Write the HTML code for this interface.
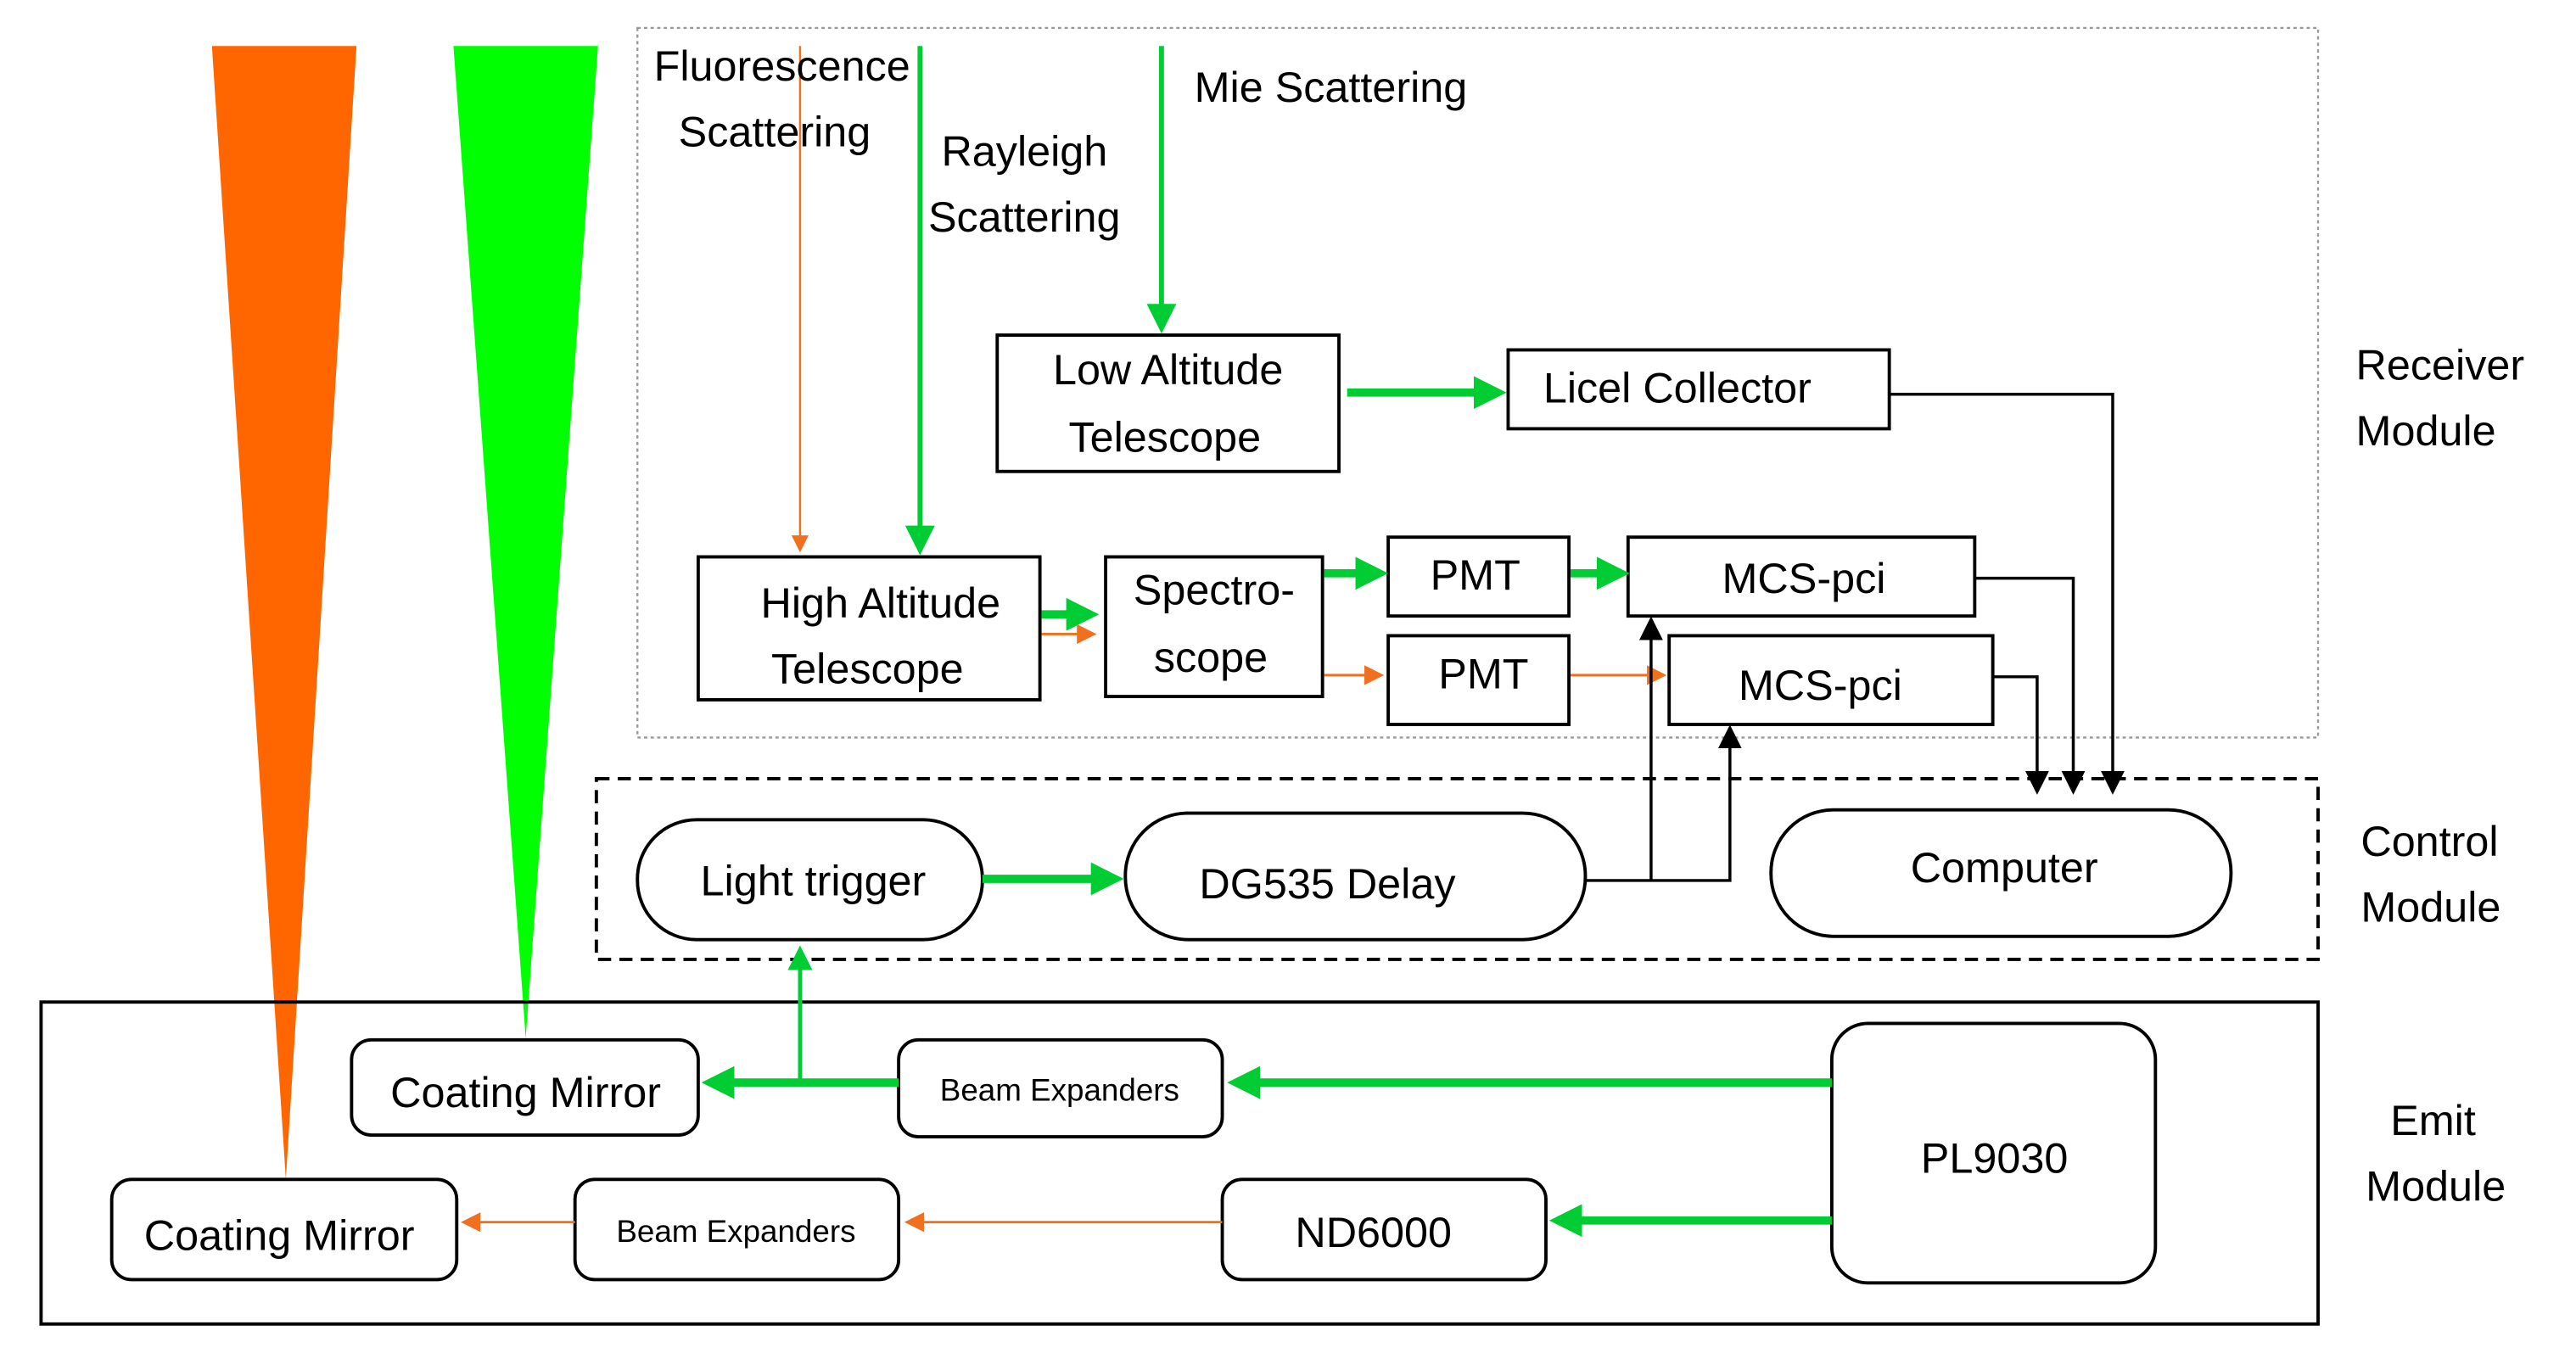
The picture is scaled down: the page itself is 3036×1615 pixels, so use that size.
<!DOCTYPE html>
<html><head><meta charset="utf-8"><style>
html,body{margin:0;padding:0;background:#fff;}
svg{display:block;}
text{font-family:"Liberation Sans",sans-serif;fill:#000;}
</style></head><body>
<svg width="3036" height="1615" viewBox="0 0 1568 834" preserveAspectRatio="none" xmlns="http://www.w3.org/2000/svg">
<defs>
<marker id="ag" markerWidth="4" markerHeight="4" refX="3" refY="2" orient="auto" markerUnits="strokeWidth"><path d="M0,0 L4,2 L0,4 z" fill="#00cc33"/></marker>
<marker id="ag2" markerWidth="6" markerHeight="6" refX="5" refY="3" orient="auto" markerUnits="strokeWidth"><path d="M0,0 L6,3 L0,6 z" fill="#00cc33"/></marker>
<marker id="ao" markerWidth="8" markerHeight="8" refX="7" refY="4" orient="auto" markerUnits="strokeWidth"><path d="M0,0 L8,4 L0,8 z" fill="#f07020"/></marker>
<marker id="ab" markerWidth="8" markerHeight="8" refX="7" refY="4" orient="auto" markerUnits="strokeWidth"><path d="M0,0 L8,4 L0,8 z" fill="#000"/></marker>
</defs>

<polygon points="129,28 217,28 174,718" fill="#ff6600"/>
<polygon points="276,28 364,28 320,632" fill="#00ff00"/>

<rect x="388" y="17" width="1023" height="432" fill="none" stroke="#999" stroke-width="1.2" stroke-dasharray="2,2"/>
<rect x="363" y="474" width="1048" height="110" fill="none" stroke="#000" stroke-width="2" stroke-dasharray="8,5"/>
<rect x="25" y="610" width="1386" height="196" fill="none" stroke="#000" stroke-width="2"/>

<line x1="487" y1="28" x2="487" y2="335" stroke="#f07020" stroke-width="1.3" marker-end="url(#ao)"/>
<line x1="560" y1="28" x2="560" y2="335" stroke="#00cc33" stroke-width="3" marker-end="url(#ag2)"/>
<line x1="707" y1="28" x2="707" y2="200" stroke="#00cc33" stroke-width="3" marker-end="url(#ag2)"/>

<g font-size="26">
<text x="398" y="49">Fluorescence</text>
<text x="413" y="89">Scattering</text>
<text x="573" y="101">Rayleigh</text>
<text x="565" y="141">Scattering</text>
<text x="727" y="62">Mie Scattering</text>
</g>

<g fill="none" stroke="#000" stroke-width="2">
<rect x="607" y="204" width="208" height="83"/>
<rect x="918" y="213" width="232" height="48"/>
<rect x="425" y="339" width="208" height="87"/>
<rect x="673" y="339" width="132" height="85"/>
<rect x="845" y="327" width="110" height="48"/>
<rect x="845" y="387" width="110" height="54"/>
<rect x="991" y="327" width="211" height="48"/>
<rect x="1016" y="387" width="197" height="54"/>
<rect x="388" y="499" width="210" height="73" rx="36"/>
<rect x="685" y="495" width="280" height="77" rx="38"/>
<rect x="1078" y="493" width="280" height="77" rx="38"/>
<rect x="214" y="633" width="211" height="58" rx="12"/>
<rect x="547" y="633" width="197" height="59" rx="12"/>
<rect x="1115" y="623" width="197" height="158" rx="22"/>
<rect x="68" y="718" width="210" height="61" rx="12"/>
<rect x="350" y="718" width="197" height="61" rx="12"/>
<rect x="744" y="718" width="197" height="61" rx="12"/>
</g>

<g font-size="26" text-anchor="middle">
<text x="711" y="234">Low Altitude</text>
<text x="709" y="275">Telescope</text>
<text x="1021" y="245">Licel Collector</text>
<text x="536" y="376">High Altitude</text>
<text x="528" y="416">Telescope</text>
<text x="739" y="368">Spectro-</text>
<text x="737" y="409">scope</text>
<text x="898" y="359">PMT</text>
<text x="903" y="419">PMT</text>
<text x="1098" y="361">MCS-pci</text>
<text x="1108" y="426">MCS-pci</text>
<text x="495" y="545">Light trigger</text>
<text x="808" y="547">DG535 Delay</text>
<text x="1220" y="537">Computer</text>
<text x="320" y="674">Coating Mirror</text>
<text x="170" y="761">Coating Mirror</text>
<text x="1214" y="714">PL9030</text>
<text x="836" y="759">ND6000</text>
</g>
<g font-size="19" text-anchor="middle">
<text x="645" y="670">Beam Expanders</text>
<text x="448" y="756">Beam Expanders</text>
</g>

<g font-size="26">
<text x="1434" y="231">Receiver</text>
<text x="1434" y="271">Module</text>
<text x="1437" y="521">Control</text>
<text x="1437" y="561">Module</text>
<text x="1455" y="691">Emit</text>
<text x="1440" y="731">Module</text>
</g>

<g stroke="#00cc33" fill="none">
<line x1="820" y1="239" x2="912" y2="239" stroke-width="5" marker-end="url(#ag)"/>
<line x1="634" y1="374" x2="664" y2="374" stroke-width="5" marker-end="url(#ag)"/>
<line x1="806" y1="349" x2="840" y2="349" stroke-width="5" marker-end="url(#ag)"/>
<line x1="956" y1="349" x2="987" y2="349" stroke-width="5" marker-end="url(#ag)"/>
<line x1="598" y1="535" x2="679" y2="535" stroke-width="5" marker-end="url(#ag)"/>
<line x1="1115" y1="659" x2="752" y2="659" stroke-width="5" marker-end="url(#ag)"/>
<line x1="547" y1="659" x2="432" y2="659" stroke-width="5" marker-end="url(#ag)"/>
<line x1="487" y1="659" x2="487" y2="578" stroke-width="2.5" marker-end="url(#ag2)"/>
<line x1="1115" y1="743" x2="948" y2="743" stroke-width="5" marker-end="url(#ag)"/>
</g>
<g stroke="#f07020" fill="none" stroke-width="1.5">
<line x1="634" y1="386" x2="666" y2="386" marker-end="url(#ao)"/>
<line x1="806" y1="411" x2="841" y2="411" marker-end="url(#ao)"/>
<line x1="956" y1="411" x2="1013" y2="411" marker-end="url(#ao)"/>
<line x1="744" y1="744" x2="552" y2="744" marker-end="url(#ao)"/>
<line x1="350" y1="744" x2="282" y2="744" marker-end="url(#ao)"/>
</g>
<g stroke="#000" fill="none" stroke-width="1.8">
<polyline points="1150,240 1286,240 1286,482" marker-end="url(#ab)"/>
<polyline points="1202,352 1262,352 1262,482" marker-end="url(#ab)"/>
<polyline points="1213,412 1240,412 1240,482" marker-end="url(#ab)"/>
<polyline points="965,536 1053,536 1053,443" marker-end="url(#ab)"/>
<line x1="1005" y1="536" x2="1005" y2="377" marker-end="url(#ab)"/>
</g>
</svg>
</body></html>
